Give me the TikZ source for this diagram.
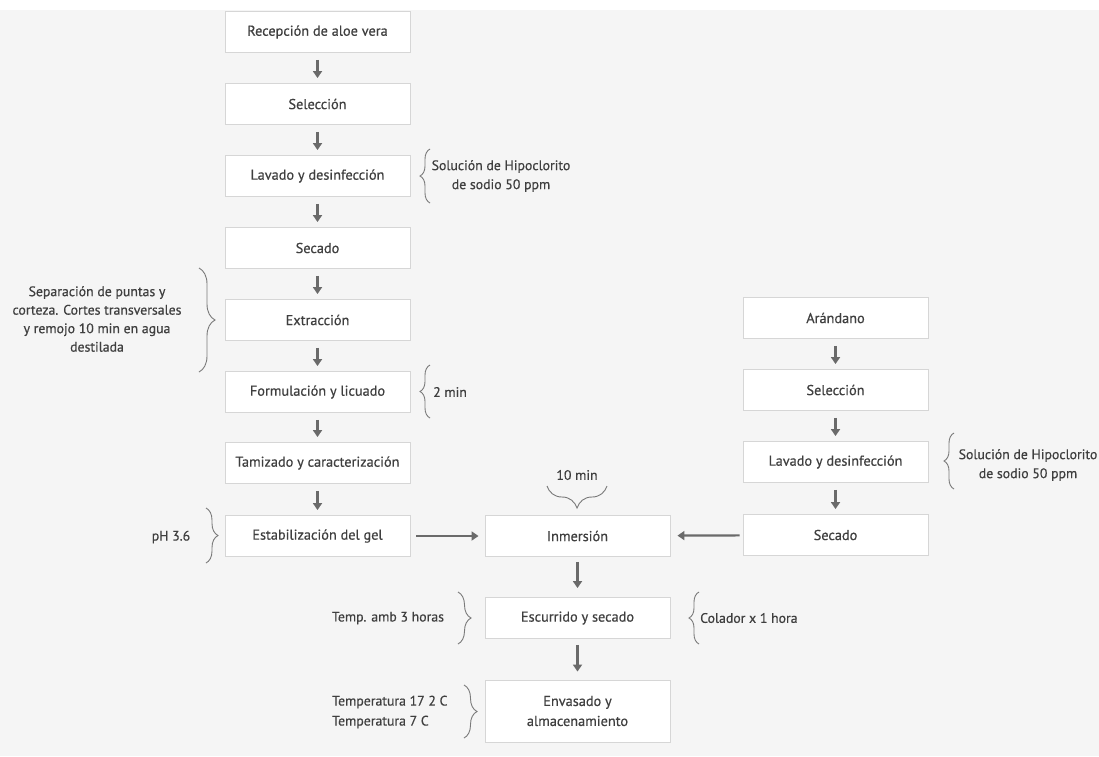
\documentclass[tikz,border=0pt]{standalone}
\usepackage{fontspec}
\setmainfont{PT Sans}
\newfontfamily\medfont{PT Sans}[FakeBold=0.5]
\usetikzlibrary{decorations.pathreplacing,arrows.meta}
\definecolor{bg}{HTML}{F5F5F5}
\definecolor{bx}{HTML}{D6D6D6}
\definecolor{tx}{HTML}{3F3F3F}
\definecolor{ar}{HTML}{6A6A6A}
\definecolor{br}{HTML}{7A7A7A}
\begin{document}
\begin{tikzpicture}[x=1pt,y=-1pt,
  stepbox/.style={draw=bx,line width=0.9pt,fill=white,minimum width=185pt,minimum height=41pt,inner sep=2pt,text=tx,font=\medfont\fontsize{14.3}{20}\selectfont,align=center},
  lbl/.style={text=tx,font=\medfont\fontsize{13.8}{19}\selectfont,align=center,inner sep=0pt},
  flow/.style={draw=ar,line width=2.2pt,-{Triangle[width=9pt,length=7pt]}},
  brc/.style={draw=br,line width=0.9pt,decorate,decoration={brace,amplitude=#1}},
]
\useasboundingbox (0,0) rectangle (1099,756);
\clip (0,0) rectangle (1099,756);
\fill[white] (0,0) rectangle (1099,756);
\fill[bg] (0,10) rectangle (1099,756);

% left column
\node[stepbox] (r1) at (317.5,32) {Recepción de aloe vera};
\node[stepbox] (r2) at (317.5,104) {Selección};
\node[stepbox] (r3) at (317.5,176) {Lavado y desinfección};
\node[stepbox] (r4) at (317.5,248) {Secado};
\node[stepbox] (r5) at (317.5,320) {Extracción};
\node[stepbox] (r6) at (317.5,392) {Formulación y licuado};
\node[stepbox] (r7) at (317.5,463) {Tamizado y caracterización};
\node[stepbox] (r8) at (317.5,536) {Estabilización del gel};
% right column
\node[stepbox] (d1) at (835.5,318) {Arándano};
\node[stepbox] (d2) at (835.5,390) {Selección};
\node[stepbox] (d3) at (835.5,462) {Lavado y desinfección};
\node[stepbox] (d4) at (835.5,535) {Secado};
% middle
\node[stepbox] (m1) at (577.5,536) {Inmersión};
\node[stepbox] (m2) at (577.5,618) {Escurrido y secado};
\node[stepbox,minimum height=62pt] (m3) at (577.5,711) {Envasado y\\almacenamiento};

% connectors
\foreach \a/\b in {r1/r2,r2/r3,r3/r4,r4/r5,r5/r6,r6/r7,r7/r8,d1/d2,d2/d3,d3/d4}
  \draw[flow,shorten <=7pt,shorten >=5pt] (\a) -- (\b);
\draw[flow,shorten <=6pt,shorten >=6pt] (r8) -- (m1);
\draw[flow,shorten <=3pt,shorten >=7pt] (d4) -- (m1);
\draw[flow,shorten <=5pt,shorten >=9pt] (m1) -- (m2);
\draw[flow,shorten <=6pt,shorten >=8pt] (m2) -- (m3);

% braces and notes
\draw[brc=10] (430,203) -- (430,149);
\node[lbl] (n1) at (501,176) {Solución de Hipoclorito\\de sodio 50 ppm};

\draw[brc=16] (199,268) -- (199,372);
\node[lbl,font=\medfont\fontsize{13.8}{18.5}\selectfont] (n2) at (97,319) {Separación de puntas y\\corteza. Cortes transversales\\y remojo 10 min en agua\\destilada};

\draw[brc=10] (430,418) -- (430,365);
\node[lbl,anchor=west] (n3) at (433,392) {2 min};

\draw[brc=10] (954,489) -- (954,433);
\node[lbl] (n4) at (1028,465) {Solución de Hipoclorito\\de sodio 50 ppm};

\draw[brc=22] (607,486) -- (547,486);
\node[lbl] (n5) at (577,475) {10 min};

\draw[brc=12] (206,508) -- (206,563);
\node[lbl] (n6) at (171,537) {pH 3.6};

\draw[brc=13] (458,592) -- (458,644);
\node[lbl] (n7) at (388,618) {Temp. amb 3 horas};

\draw[brc=10] (699,644) -- (699,592);
\node[lbl,anchor=west] (n8) at (700,618) {Colador x 1 hora};

\draw[brc=13] (464,685) -- (464,738);
\node[lbl,align=left,anchor=west,font=\medfont\fontsize{13.8}{20}\selectfont] (n9) at (332,712) {Temperatura 17 2 C\\Temperatura 7 C};
\end{tikzpicture}
\end{document}
